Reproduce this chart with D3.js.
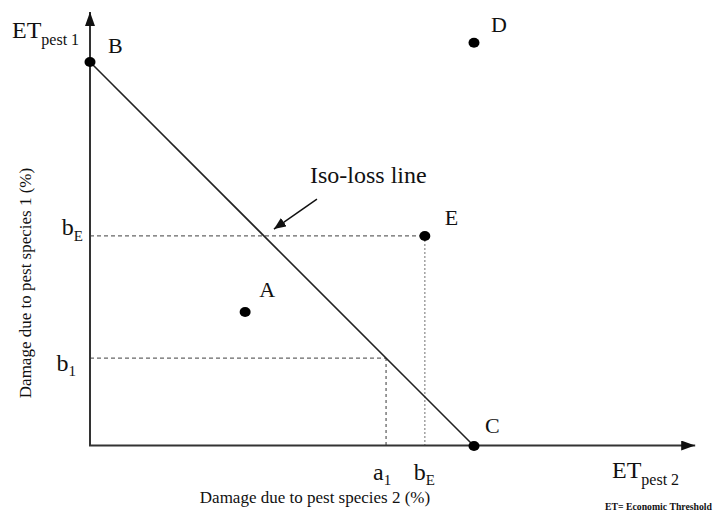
<!DOCTYPE html>
<html><head><meta charset="utf-8">
<script src="https://cdn.jsdelivr.net/npm/d3@7"></script>
<style>html,body{margin:0;padding:0;background:#fff;} svg{display:block;} text{font-family:"Liberation Serif","Times New Roman",serif;fill:#111;}</style>
</head><body>
<svg id="chart" width="713" height="514"></svg>
<script>
// ---- data ----
const pointNames = ["A", "B", "C", "D", "E"];
const pointX = [40.4, 0, 100, 100, 87.2];
const pointY = [34.9, 100, 0, 105, 54.7];
const isoLine = [[0, 100], [100, 0]];          // B -> C
const b1 = 22.9;                                 // damage level b1
const a1 = 100 - b1;                             // matching point on iso-loss line
const bE = 54.7;                                 // E level
const eX = 87.2;
const axisMaxX = 157.6, axisMaxY = 113;
const yTickLabels = [["b", "E"], ["b", "1"]];
const xTickLabels = [["a", "1"], ["b", "E"]];
const isoLabel = "Iso-loss line";
const isoArrow = [[59.1, 64.3], [47.9, 56.5]];
const isoLabelPos = [57.3, 68.5];
const xTitle = "Damage due to pest species 2 (%)";
const yTitle = "Damage due to pest species 1 (%)";
const footnote = "ET= Economic Threshold";

// ---- scales ----
const x = d3.scaleLinear().domain([0, 100]).range([90, 474]);
const y = d3.scaleLinear().domain([0, 100]).range([446, 62]);

const svg = d3.select("#chart");
const defs = svg.append("defs");
defs.append("marker").attr("id", "axArrow").attr("viewBox", "0 0 14 10")
  .attr("refX", 14).attr("refY", 5).attr("markerWidth", 14).attr("markerHeight", 10)
  .attr("markerUnits", "userSpaceOnUse").attr("orient", "auto")
  .append("path").attr("d", "M0,0L14,5L0,10z").attr("fill", "#111");
defs.append("marker").attr("id", "smArrow").attr("viewBox", "0 0 12 10")
  .attr("refX", 12).attr("refY", 5).attr("markerWidth", 12).attr("markerHeight", 10)
  .attr("markerUnits", "userSpaceOnUse").attr("orient", "auto")
  .append("path").attr("d", "M0,0L12,5L0,10z").attr("fill", "#111");

// reference lines
const ref = svg.append("g");
ref.append("line").attr("x1", x(0)).attr("x2", x(eX)).attr("y1", y(bE)).attr("y2", y(bE))
  .attr("stroke", "#666").attr("stroke-width", 1.3).attr("stroke-dasharray", "4,3");
ref.append("line").attr("x1", x(eX)).attr("x2", x(eX)).attr("y1", y(bE)).attr("y2", y(0))
  .attr("stroke", "#888").attr("stroke-width", 1.2).attr("stroke-dasharray", "2,2");
ref.append("line").attr("x1", x(0)).attr("x2", x(a1)).attr("y1", y(b1)).attr("y2", y(b1))
  .attr("stroke", "#666").attr("stroke-width", 1.3).attr("stroke-dasharray", "4,3");
ref.append("line").attr("x1", x(a1)).attr("x2", x(a1)).attr("y1", y(b1)).attr("y2", y(0))
  .attr("stroke", "#666").attr("stroke-width", 1.3).attr("stroke-dasharray", "3,3");

// iso-loss line
svg.append("path").datum(isoLine)
  .attr("d", d3.line().x(d => x(d[0])).y(d => y(d[1])))
  .attr("fill", "none").attr("stroke", "#222").attr("stroke-width", 1.6);

// axes
svg.append("line").attr("x1", x(0)).attr("x2", x(0)).attr("y1", y(0)).attr("y2", y(axisMaxY))
  .attr("stroke", "#333").attr("stroke-width", 2).attr("marker-end", "url(#axArrow)");
svg.append("line").attr("x1", x(0) - 1).attr("x2", x(axisMaxX)).attr("y1", y(0) - 0.5).attr("y2", y(0) - 0.5)
  .attr("stroke", "#333").attr("stroke-width", 2).attr("marker-end", "url(#axArrow)");

// points
const pts = pointNames.map((n, i) => ({name: n, x: pointX[i], y: pointY[i]}));
const labelOff = {A: [14, -15], B: [18, -9], C: [11, -13], D: [17, -11], E: [20, -11]};
svg.append("g").selectAll("ellipse").data(pts).join("ellipse")
  .attr("cx", d => x(d.x)).attr("cy", d => y(d.y)).attr("rx", 5.5).attr("ry", 5).attr("fill", "#000");
svg.append("g").selectAll("text").data(pts).join("text")
  .attr("x", d => x(d.x) + labelOff[d.name][0]).attr("y", d => y(d.y) + labelOff[d.name][1])
  .attr("font-size", 22).text(d => d.name);

// subscript label helper
function subText(g, px, py, parts, big, small, dy, anchor) {
  const t = g.append("text").attr("x", px).attr("y", py).attr("text-anchor", anchor || "start");
  t.append("tspan").attr("font-size", big).text(parts[0]);
  t.append("tspan").attr("font-size", small).attr("dy", dy).text(parts[1]);
  return t;
}
// y tick labels
subText(svg, 83, y(bE) - 1, yTickLabels[0], 24, 15, 6, "end");
subText(svg, 76, y(b1) + 13, yTickLabels[1], 24, 15, 5, "end");
// x tick labels
subText(svg, x(a1) - 13, 480, xTickLabels[0], 24, 15, 5);
subText(svg, x(eX) - 11, 480, xTickLabels[1], 24, 15, 5);

// axis end labels
subText(svg, 12, 38, ["ET", "pest 1"], 24, 16, 7);
subText(svg, 612, 478, ["ET", "pest 2"], 24, 16, 7);

// iso-loss annotation
svg.append("text").attr("x", x(isoLabelPos[0])).attr("y", y(isoLabelPos[1]))
  .attr("font-size", 24).text(isoLabel);
svg.append("line").attr("x1", x(isoArrow[0][0])).attr("y1", y(isoArrow[0][1]))
  .attr("x2", x(isoArrow[1][0])).attr("y2", y(isoArrow[1][1]))
  .attr("stroke", "#111").attr("stroke-width", 1.5).attr("marker-end", "url(#smArrow)");

// axis titles
svg.append("text").attr("x", 315).attr("y", 503).attr("text-anchor", "middle")
  .attr("font-size", 17).text(xTitle);
svg.append("text").attr("transform", "translate(31,283) rotate(-90)").attr("text-anchor", "middle")
  .attr("font-size", 17).text(yTitle);

// footnote
svg.append("text").attr("x", 605).attr("y", 510).attr("font-size", 9.5).attr("font-weight", "bold")
  .attr("textLength", 107).attr("lengthAdjust", "spacingAndGlyphs").text(footnote);
</script>
</body></html>
